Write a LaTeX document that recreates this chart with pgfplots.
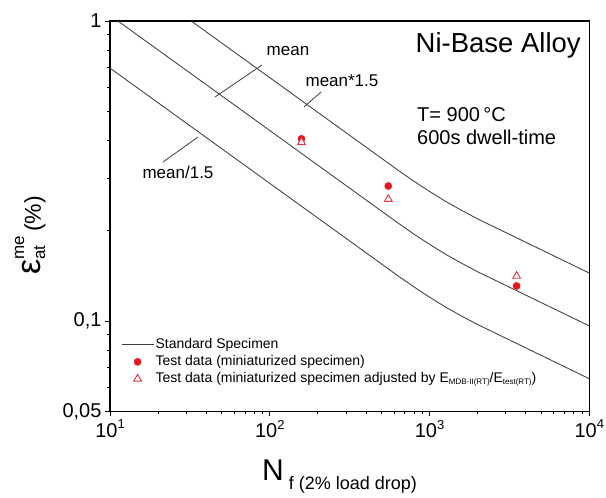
\documentclass[border=0pt]{standalone}
\usepackage{pgfplots}
\pgfplotsset{compat=1.18}
\usepackage{fontspec}
\setmainfont{Liberation Sans}
\definecolor{curvegray}{RGB}{60,60,70}
\definecolor{dotred}{RGB}{232,20,30}
\definecolor{trired}{RGB}{226,50,66}
\begin{document}
\begin{tikzpicture}
\useasboundingbox (0pt,0pt) rectangle (606pt,498pt);
\begin{axis}[
  at={(110pt,86.5pt)}, anchor=south west,
  scale only axis, width=479.3pt, height=390.5pt,
  xmode=log, ymode=log,
  xmin=10, xmax=10000, ymin=0.05, ymax=1,
  xtick={10,100,1000,10000},
  xticklabels={{10\raisebox{0.42em}{\fontsize{13}{13}\selectfont 1}},
               {10\raisebox{0.42em}{\fontsize{13}{13}\selectfont 2}},
               {10\raisebox{0.42em}{\fontsize{13}{13}\selectfont 3}},
               {10\raisebox{0.42em}{\fontsize{13}{13}\selectfont 4}}},
  minor xtick={20,30,40,50,60,70,80,90,200,300,400,500,600,700,800,900,2000,3000,4000,5000,6000,7000,8000,9000},
  ytick={0.05,0.1,1},
  yticklabels={{0,05},{0,1},{1}},
  minor ytick={0.06,0.07,0.08,0.09,0.2,0.3,0.4,0.5,0.6,0.7,0.8,0.9},
  tick align=outside, xtick pos=lower, ytick pos=left,
  major tick length=5pt, minor tick length=3pt,
  tick style={black, line width=0.8pt},
  axis line style={line width=1.1pt},
  ticklabel style={font=\fontsize{20}{22}\selectfont},
  /pgf/number format/assume math mode=true,
  legend image code/.code={\draw[mark repeat=2,mark phase=2,#1] plot coordinates {(0pt,0pt) (16pt,0pt) (32pt,0pt)};},
  legend style={at={(0.023,0.193)}, anchor=north west, draw=none, fill=none,
    font=\fontsize{14}{16}\selectfont, row sep=0pt, inner sep=0pt,
    nodes={inner sep=1.5pt, text height=10.5pt, text depth=3.5pt}},
  legend cell align=left,
]
\addplot[curvegray, line width=0.85pt] coordinates {(10,1.5675) (631,0.3192) (794.3,0.2931) (1000,0.2705) (1259,0.2507) (1585,0.2340) (1995,0.2193) (10000,0.1446)};
\addlegendentry{Standard Specimen}
\addplot[curvegray, line width=0.85pt, forget plot] coordinates {(10,1.045) (631,0.2128) (794.3,0.1954) (1000,0.1803) (1259,0.1671) (1585,0.1560) (1995,0.1462) (10000,0.0964)};
\addplot[curvegray, line width=0.85pt, forget plot] coordinates {(10,0.6967) (631,0.1419) (794.3,0.1303) (1000,0.1202) (1259,0.1114) (1585,0.1040) (1995,0.0975) (10000,0.0643)};
\addplot[only marks, mark=*, mark size=3.6pt, mark options={draw=dotred, fill=dotred}] coordinates {(158,0.405) (552,0.282) (3508,0.131)};
\addlegendentry{Test data (miniaturized specimen)}
\addplot[only marks, mark=triangle*, mark size=4.5pt, mark options={draw=trired, fill=white, line width=0.9pt}] coordinates {(158,0.395) (552,0.255) (3508,0.1414)};
\addlegendentry{Test data (miniaturized specimen adjusted by E\raisebox{-2pt}{\fontsize{8}{8}\selectfont MDB-II(RT)}/E\raisebox{-2pt}{\fontsize{8}{8}\selectfont test(RT)})}
\end{axis}
% annotations
\draw[curvegray, line width=0.8pt] (262pt,433pt) -- (215pt,401pt);
\draw[curvegray, line width=0.8pt] (321pt,406pt) -- (304pt,391pt);
\draw[curvegray, line width=0.8pt] (163pt,336pt) -- (198pt,361pt);
\node[font=\fontsize{17}{19}\selectfont, inner sep=0pt] at (288pt,447pt) {mean};
\node[font=\fontsize{17}{19}\selectfont, inner sep=0pt] at (342pt,417pt) {mean*1.5};
\node[font=\fontsize{17}{19}\selectfont, inner sep=0pt] at (178pt,326pt) {mean/1.5};
\node[font=\fontsize{27.5}{29}\selectfont, anchor=base east, inner sep=0pt] at (581pt,445pt) {Ni-Base Alloy};
\node[font=\fontsize{20}{22}\selectfont, anchor=base west, inner sep=0pt] at (417pt,376pt) {T= 900\,°C};
\node[font=\fontsize{20}{22}\selectfont, anchor=base west, inner sep=0pt] at (417pt,353pt) {600s dwell-time};
\node[rotate=90, anchor=base west, inner sep=0pt] at (41pt,223pt) {\fontsize{34}{36}\selectfont ε\rlap{\raisebox{0.5em}{\fontsize{17}{17}\selectfont me}}\raisebox{-0.12em}{\fontsize{17}{17}\selectfont at}\hspace{0.4em}{\fontsize{23}{25}\selectfont (\%)}};
\node[anchor=base west, inner sep=0pt] at (262pt,17pt) {\fontsize{30}{32}\selectfont N\raisebox{-0.3em}{\fontsize{18}{18}\selectfont\ f (2\% load drop)}};
\end{tikzpicture}
\end{document}
